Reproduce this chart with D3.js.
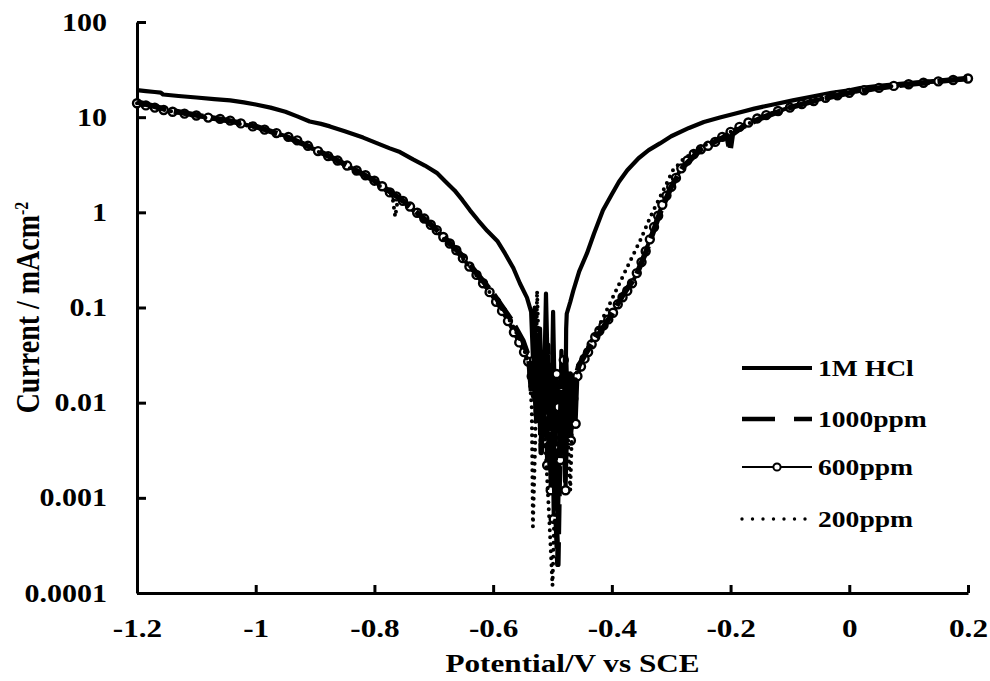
<!DOCTYPE html>
<html>
<head>
<meta charset="utf-8">
<script src="https://cdn.jsdelivr.net/npm/d3@7"></script>
<style>
    body { margin: 0; background: #fff; }
    text { font-family: "Liberation Serif", "Times New Roman", serif; font-weight: bold; fill: #000; }
</style>
</head>
<body>
<div id="chart"></div>
<script>
/* * * * * * * * * * * * * *
*   Tafel polarisation plot *
* * * * * * * * * * * * * */

const seriesNames = ["1M HCl", "1000ppm", "600ppm", "200ppm"];
const xTicks = [-1.2, -1, -0.8, -0.6, -0.4, -0.2, 0, 0.2];
const yTicks = [0.0001, 0.001, 0.01, 0.1, 1, 10, 100];
const yTickLabels = ["0.0001", "0.001", "0.01", "0.1", "1", "10", "100"];

// [potential (V vs SCE), current (mA/cm2)]
const hclData = [
    [-1.200, 19.2], [-1.185, 18.8], [-1.170, 18.4], [-1.160, 18.1], [-1.156, 17.3], [-1.130, 16.7],
    [-1.100, 16.1], [-1.070, 15.5], [-1.043, 15.0], [-1.020, 14.3], [-1.000, 13.6], [-0.975, 12.6],
    [-0.950, 11.4], [-0.930, 10.2], [-0.909, 9.0], [-0.890, 8.5], [-0.875, 8.0], [-0.850, 7.1],
    [-0.819, 6.1], [-0.795, 5.3], [-0.774, 4.7], [-0.757, 4.3], [-0.735, 3.6], [-0.715, 3.1],
    [-0.695, 2.6], [-0.680, 2.1], [-0.665, 1.7], [-0.652, 1.35], [-0.639, 1.05], [-0.625, 0.82],
    [-0.610, 0.64], [-0.593, 0.50], [-0.580, 0.37], [-0.566, 0.26], [-0.555, 0.18], [-0.543, 0.127],
    [-0.536, 0.09], [-0.533, 0.03], [-0.530, 0.1], [-0.526, 0.012], [-0.521, 0.06], [-0.516, 0.004],
    [-0.511, 0.14], [-0.507, 0.011], [-0.503, 0.003], [-0.499, 0.09], [-0.495, 0.004], [-0.491, 0.0006],
    [-0.488, 0.003], [-0.485, 0.035], [-0.482, 0.007], [-0.479, 0.0015], [-0.477, 0.06], [-0.476, 0.086],
    [-0.470, 0.115], [-0.465, 0.15], [-0.455, 0.24], [-0.442, 0.37], [-0.430, 0.6], [-0.415, 1.05],
    [-0.400, 1.55], [-0.388, 2.1], [-0.374, 2.77], [-0.355, 3.7], [-0.338, 4.5], [-0.319, 5.3],
    [-0.300, 6.3], [-0.270, 7.7], [-0.245, 8.9], [-0.218, 9.9], [-0.190, 11.0], [-0.160, 12.3],
    [-0.130, 13.5], [-0.095, 15.0], [-0.060, 16.6], [-0.030, 18.0], [0.000, 19.2], [0.018, 20.2],
    [0.050, 21.4], [0.090, 22.6], [0.130, 23.7], [0.170, 24.6], [0.200, 25.3]
];

const ppm1000Data = [
    [-1.200, 14.5], [-1.150, 12.0], [-1.100, 10.5], [-1.050, 9.3], [-1.000, 8.0], [-0.950, 6.3],
    [-0.900, 4.6], [-0.850, 3.2], [-0.800, 2.15], [-0.750, 1.3], [-0.700, 0.7], [-0.650, 0.34],
    [-0.600, 0.14], [-0.570, 0.075], [-0.550, 0.045], [-0.540, 0.03], [-0.535, 0.012], [-0.531, 0.035],
    [-0.527, 0.006], [-0.523, 0.03], [-0.519, 0.003], [-0.515, 0.025], [-0.511, 0.008], [-0.508, 0.04],
    [-0.504, 0.002], [-0.500, 0.012], [-0.497, 0.0015], [-0.493, 0.00045], [-0.491, 0.0002],
    [-0.488, 0.0025], [-0.485, 0.015], [-0.481, 0.003], [-0.478, 0.03], [-0.474, 0.005], [-0.470, 0.02],
    [-0.466, 0.007], [-0.462, 0.018], [-0.455, 0.025], [-0.440, 0.036],
    [-0.420, 0.055], [-0.400, 0.085], [-0.380, 0.14], [-0.360, 0.21], [-0.340, 0.42], [-0.320, 0.95],
    [-0.300, 1.85], [-0.280, 3.0], [-0.250, 4.6], [-0.220, 5.8], [-0.206, 6.4], [-0.201, 4.4],
    [-0.197, 6.6], [-0.180, 7.9], [-0.150, 9.7], [-0.100, 12.6], [-0.050, 15.4], [0.000, 18.0],
    [0.050, 20.3], [0.100, 22.2], [0.150, 23.8], [0.200, 25.5]
];

const ppm600Data = [
    [-1.200, 14.0], [-1.185, 13.3], [-1.170, 12.6], [-1.155, 11.9], [-1.140, 11.4], [-1.120, 10.9],
    [-1.100, 10.4], [-1.080, 9.9], [-1.060, 9.6], [-1.043, 9.2], [-1.025, 8.6], [-1.005, 8.0],
    [-0.985, 7.4], [-0.965, 6.8], [-0.945, 6.2], [-0.930, 5.7], [-0.912, 5.0], [-0.895, 4.4],
    [-0.878, 3.9], [-0.862, 3.5], [-0.846, 3.1], [-0.830, 2.75], [-0.815, 2.45], [-0.800, 2.15],
    [-0.787, 1.88], [-0.774, 1.62], [-0.763, 1.47], [-0.752, 1.32], [-0.740, 1.15], [-0.728, 0.99],
    [-0.716, 0.86], [-0.705, 0.74], [-0.695, 0.65], [-0.684, 0.55], [-0.673, 0.47], [-0.662, 0.40],
    [-0.651, 0.33], [-0.640, 0.27], [-0.628, 0.22], [-0.617, 0.18], [-0.606, 0.145], [-0.595, 0.115],
    [-0.585, 0.092], [-0.575, 0.072], [-0.565, 0.055], [-0.556, 0.043], [-0.548, 0.034], [-0.541, 0.027],
    [-0.535, 0.019], [-0.531, 0.028], [-0.528, 0.012], [-0.525, 0.022], [-0.521, 0.007], [-0.518, 0.016],
    [-0.515, 0.004], [-0.512, 0.011], [-0.509, 0.0022], [-0.506, 0.0075], [-0.503, 0.0012], [-0.500, 0.005],
    [-0.498, 0.0006], [-0.496, 0.0035], [-0.493, 0.02], [-0.490, 0.009], [-0.487, 0.0025], [-0.484, 0.013],
    [-0.481, 0.028], [-0.478, 0.0012], [-0.475, 0.006], [-0.472, 0.016], [-0.469, 0.004], [-0.465, 0.011],
    [-0.461, 0.006], [-0.458, 0.019], [-0.452, 0.024], [-0.446, 0.029], [-0.440, 0.034], [-0.434, 0.041],
    [-0.428, 0.049], [-0.421, 0.057], [-0.414, 0.065], [-0.406, 0.075], [-0.398, 0.088], [-0.390, 0.108],
    [-0.382, 0.128], [-0.374, 0.150], [-0.366, 0.180], [-0.358, 0.230], [-0.350, 0.300], [-0.343, 0.390],
    [-0.336, 0.520], [-0.329, 0.700], [-0.322, 0.920], [-0.315, 1.20], [-0.308, 1.50], [-0.300, 1.85],
    [-0.292, 2.30], [-0.283, 2.90], [-0.273, 3.50], [-0.262, 4.10], [-0.250, 4.60], [-0.238, 5.00],
    [-0.226, 5.50], [-0.214, 6.20], [-0.200, 7.00], [-0.185, 7.90], [-0.170, 8.80], [-0.155, 9.70],
    [-0.140, 10.5], [-0.120, 11.6], [-0.100, 12.6], [-0.080, 13.7], [-0.060, 14.8], [-0.040, 16.0],
    [-0.020, 17.0], [0.000, 18.0], [0.025, 19.2], [0.050, 20.3], [0.075, 21.3], [0.100, 22.2],
    [0.125, 23.0], [0.150, 23.8], [0.175, 24.6], [0.200, 25.5]
];

const ppm200Data = [
    [-1.200, 14.0], [-1.150, 11.8], [-1.100, 10.2], [-1.050, 9.1], [-1.000, 7.8], [-0.950, 6.2],
    [-0.900, 4.5], [-0.850, 3.1], [-0.800, 2.1], [-0.770, 1.5], [-0.765, 0.9], [-0.760, 1.45],
    [-0.750, 1.25], [-0.700, 0.68], [-0.650, 0.32], [-0.600, 0.13], [-0.570, 0.07], [-0.550, 0.04],
    [-0.540, 0.025], [-0.535, 0.0089], [-0.533, 0.0005], [-0.529, 0.004], [-0.526, 0.15], [-0.522, 0.02],
    [-0.515, 0.008], [-0.506, 0.0007], [-0.500, 0.00012], [-0.495, 0.002], [-0.488, 0.008],
    [-0.474, 0.0043], [-0.470, 0.0012], [-0.466, 0.01], [-0.460, 0.02], [-0.450, 0.03], [-0.430, 0.05],
    [-0.410, 0.09], [-0.391, 0.16], [-0.370, 0.3], [-0.352, 0.51], [-0.335, 0.9], [-0.319, 1.44],
    [-0.297, 2.77], [-0.280, 3.6], [-0.250, 4.8], [-0.200, 7.0], [-0.150, 9.8], [-0.100, 12.7],
    [-0.050, 15.5], [0.000, 18.2], [0.050, 20.4], [0.100, 22.3], [0.150, 24.0], [0.200, 25.5]
];

const seriesData = [hclData, ppm1000Data, ppm600Data, ppm200Data];

// line styles per series
const seriesStyle = [
    {width: 4.2, dash: null, cap: "butt"},
    {width: 5.5, dash: "30 8", cap: "butt"},
    {width: 4, dash: null, cap: "butt"},
    {width: 4, dash: "0 7", cap: "round"}
];

const width = 990, height = 681;
const plot = {left: 137, right: 968, top: 22, bottom: 593};
const stretch = 1.2; // the lettering in the picture is a little wider than usual

let svg = d3.select("#chart").append("svg")
    .attr("width", width)
    .attr("height", height);

// scales
let x = d3.scaleLinear()
    .domain([-1.2, 0.2])
    .range([plot.left, plot.right]);

let y = d3.scaleLog()
    .domain([0.0001, 100])
    .range([plot.bottom, plot.top]);

// axes
let xAxis = d3.axisBottom(x)
    .tickValues(xTicks)
    .tickFormat(d => String(+d.toFixed(1)))
    .tickSizeInner(-8)
    .tickSizeOuter(0);

let yAxis = d3.axisLeft(y)
    .tickValues(yTicks)
    .tickFormat((d, i) => yTickLabels[i])
    .tickSizeInner(-9)
    .tickSizeOuter(0)
    .tickPadding(25);

let gx = svg.append("g")
    .attr("class", "x-axis axis")
    .attr("transform", `translate(0,${plot.bottom})`)
    .call(xAxis);

let gy = svg.append("g")
    .attr("class", "y-axis axis")
    .attr("transform", `translate(${plot.left},0)`)
    .call(yAxis);

[gx, gy].forEach(g => {
    g.attr("font-family", null).attr("font-size", null);
    g.select(".domain").attr("stroke-width", 3);
    g.selectAll(".tick line").attr("stroke-width", 3);
    g.selectAll(".tick text")
        .attr("transform", `scale(${stretch},1)`);
});
gy.selectAll(".tick text").style("font-size", "25px");
gx.selectAll(".tick text")
    .style("font-size", "26px")
    .attr("y", 26)
    .attr("dy", "0.71em");

// axis titles
svg.append("text")
    .attr("transform", `translate(${(plot.left + plot.right) / 2 + 20},${663}) scale(${stretch},1)`)
    .attr("text-anchor", "middle")
    .attr("dy", "0.35em")
    .style("font-size", "26px")
    .text("Potential/V vs SCE");

let yTitle = svg.append("text")
    .attr("transform", `translate(27,${(plot.top + plot.bottom) / 2}) rotate(-90) scale(1,${stretch})`)
    .attr("text-anchor", "middle")
    .attr("dy", "0.35em")
    .style("font-size", "28px");
yTitle.append("tspan").text("Current / mAcm");
yTitle.append("tspan")
    .attr("dy", "-0.55em")
    .style("font-size", "16px")
    .text("-2");

// curves
let line = d3.line()
    .x(d => x(d[0]))
    .y(d => y(d[1]));

let plotArea = svg.append("g").attr("class", "curves");

// 1M HCl first, then 600ppm with markers, then dashed and dotted on top
[0, 2, 1, 3].forEach(i => {
    let s = seriesStyle[i];
    plotArea.append("path")
        .datum(seriesData[i])
        .attr("fill", "none")
        .attr("stroke", "#000")
        .attr("stroke-width", s.width)
        .attr("stroke-linecap", s.cap)
        .attr("stroke-linejoin", "round")
        .attr("stroke-dasharray", s.dash)
        .attr("d", line);

    if (i === 2) {
        plotArea.selectAll(".marker")
            .data(seriesData[i])
            .enter().append("circle")
            .attr("class", "marker")
            .attr("cx", d => x(d[0]))
            .attr("cy", d => y(d[1]))
            .attr("r", 4)
            .attr("fill", "#fff")
            .attr("stroke", "#000")
            .attr("stroke-width", 2.4);
    }
});

// legend
let legend = svg.append("g")
    .attr("class", "legend")
    .attr("transform", "translate(742,368)");

let items = legend.selectAll(".legend-item")
    .data(seriesNames)
    .enter().append("g")
    .attr("class", "legend-item")
    .attr("transform", (d, i) => `translate(0,${[0, 51, 99, 151][i]})`);

items.append("line")
    .attr("x1", 0).attr("x2", 70)
    .attr("y1", 0).attr("y2", 0)
    .attr("stroke", "#000")
    .attr("stroke-width", (d, i) => [3.8, 4.4, 2, 3.4][i])
    .attr("stroke-linecap", (d, i) => i === 3 ? "round" : "butt")
    .attr("stroke-dasharray", (d, i) => ["", "33 19", "", "0 10.5"][i]);

items.filter((d, i) => i === 2).append("circle")
    .attr("cx", 35).attr("cy", 0).attr("r", 3.6)
    .attr("fill", "#fff").attr("stroke", "#000").attr("stroke-width", 2);

items.append("text")
    .attr("transform", `translate(76,0) scale(${stretch},1)`)
    .attr("dy", "0.33em")
    .style("font-size", "23px")
    .text(d => d);
</script>
</body>
</html>
